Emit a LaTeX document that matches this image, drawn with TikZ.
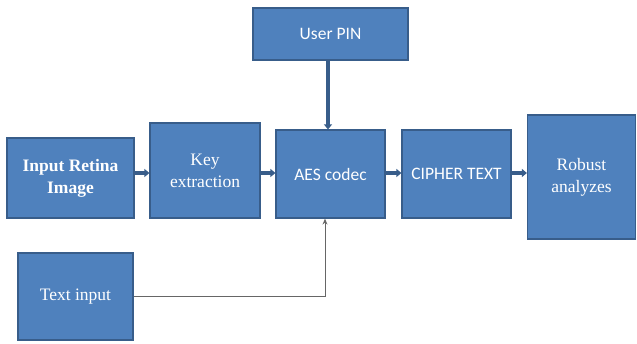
\documentclass[tikz,border=0pt]{standalone}
\usepackage{fontspec}
\setmainfont{Liberation Serif}
\newfontfamily\calibri{Carlito}
\usepackage{tikz}
\usetikzlibrary{arrows.meta, positioning}
\definecolor{boxblue}{HTML}{4F81BD}
\definecolor{boxedge}{HTML}{385D8A}
\tikzstyle{block} = [rectangle, text centered, align=center, draw=boxedge, line width=1.2pt, fill=boxblue, text=white, inner sep=0pt, font=\fontsize{17.5}{22}\selectfont]
\tikzstyle{sansblock} = [block, font=\calibri\fontsize{17.5}{22}\selectfont]
\tikzstyle{arrow} = [draw=boxedge, line width=3.5pt, -{Triangle[length=5pt,width=8pt]}]
\tikzstyle{thinarrow} = [draw=gray!80!black, line width=0.8pt, -{Stealth[length=6pt,width=5pt,open]}]

\begin{document}
\begin{tikzpicture}[x=1pt, y=-1pt]
\useasboundingbox (0,0) rectangle (637,344);

% Input side
\node (retina) [block, minimum width=127pt, minimum height=80pt, font=\bfseries\fontsize{17.5}{22}\selectfont] at (70.5,178) {Input Retina\\Image};
\node (key) [block, minimum width=110pt, minimum height=95pt] at (205,170.5) {Key\\extraction};

% Encryption
\node (pin) [sansblock, minimum width=155pt, minimum height=52pt] at (330.5,34) {User PIN};
\node (aes) [sansblock, minimum width=109pt, minimum height=88pt] at (330.5,174) {AES codec};
\node (cipher) [sansblock, minimum width=109pt, minimum height=88pt] at (456.5,174) {CIPHER TEXT};

% Output
\node (robust) [block, minimum width=108pt, minimum height=124pt] at (581.5,177) {Robust\\analyzes};

% Plain text
\node (txt) [block, minimum width=115pt, minimum height=87pt] at (75.5,296.5) {Text input};

% Arrows
\draw [arrow] (retina.east |- 0,173) -- (key.west |- 0,173);
\draw [arrow] (key.east |- 0,173) -- (aes.west |- 0,173);
\draw [arrow] (aes.east |- 0,173) -- (cipher.west |- 0,173);
\draw [arrow] (cipher.east |- 0,173) -- (robust.west |- 0,173);
\draw [arrow] (pin.south -| 328,0) -- (aes.north -| 328,0);
\draw [thinarrow] (txt.east) -| (aes.south -| 325,0);

\end{tikzpicture}
\end{document}
